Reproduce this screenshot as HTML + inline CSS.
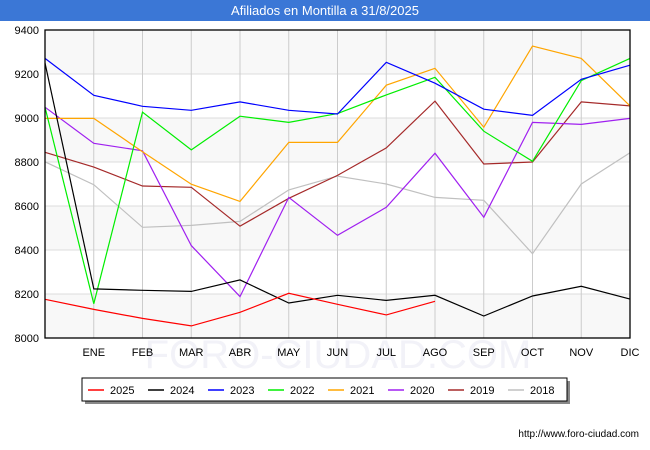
<!DOCTYPE html>
<html><head><meta charset="utf-8"><style>
body{margin:0;background:#fff;font-family:"Liberation Sans",sans-serif;}
#wrap{position:relative;width:650px;height:450px;overflow:hidden}
#title{position:absolute;left:0;top:0;width:650px;height:21px;background:#3b77d6;color:#fff;font-size:13px;text-align:center;line-height:22px}
</style></head><body>
<div id="wrap">
<div id="title">Afiliados en Montilla a 31/8/2025</div>
<svg id="svg" width="650" height="450" style="position:absolute;left:0;top:0"></svg>
</div>
<script>
const months=["","ENE","FEB","MAR","ABR","MAY","JUN","JUL","AGO","SEP","OCT","NOV","DIC"];
const yTicks=[8000,8200,8400,8600,8800,9000,9200,9400];
const seriesNames=["2025","2024","2023","2022","2021","2020","2019","2018"];
const seriesColors=["#ff0000","#000000","#0000ff","#00ee00","#ffa500","#a020f0","#a52a2a","#c0c0c0"];
const s2025=[8176,8130,8089,8055,8117,8203,8153,8105,8167];
const s2024=[9250,8223,8217,8212,8264,8159,8194,8171,8194,8100,8191,8235,8177];
const s2023=[9271,9103,9053,9035,9073,9035,9018,9253,9158,9040,9012,9176,9240];
const s2022=[9049,8156,9027,8855,9008,8980,9020,9105,9185,8940,8803,9170,9271];
const s2021=[8998,8998,8847,8699,8621,8889,8889,9149,9226,8958,9327,9271,9055];
const s2020=[9049,8885,8851,8420,8188,8639,8467,8594,8840,8549,8980,8971,8998];
const s2019=[8844,8777,8691,8685,8508,8635,8739,8864,9077,8791,8800,9073,9055];
const s2018=[8801,8697,8503,8512,8530,8673,8736,8700,8639,8626,8383,8700,8842];
const allSeries=[s2025,s2024,s2023,s2022,s2021,s2020,s2019,s2018];
const NS="http://www.w3.org/2000/svg";
const svg=document.getElementById('svg');
const L=45,R=630,T=30,B=338,yMin=8000,yMax=9400;
const x=i=>L+(R-L)*i/12;
const y=v=>B-(B-T)*(v-yMin)/(yMax-yMin);
function mk(t,a){const e=document.createElementNS(NS,t);for(const k in a)e.setAttribute(k,a[k]);svg.appendChild(e);return e;}
for(let i=0;i<yTicks.length-1;i++){
 const r=mk('rect',{x:L,y:y(yTicks[i+1]),width:R-L,height:y(yTicks[i])-y(yTicks[i+1]),fill:(i%2==0)?'#f8f8f8':'#ffffff'});
 
 
}
const wm=mk('text',{x:338,y:368,'text-anchor':'middle','font-size':40,fill:'#f2f2f8','font-family':'Liberation Sans, sans-serif'});
wm.textContent='FORO-CIUDAD.COM';


yTicks.forEach(v=>{
 const g=mk('line',{x1:L,x2:R,y1:y(v),y2:y(v),stroke:'#dddddd','stroke-width':1});
 
 
 const t=mk('text',{x:L-6,y:y(v)+4,'text-anchor':'end','font-size':11,fill:'#000'});
 t.textContent=v;
 
 
});
months.forEach((m,i)=>{
 if(i>0){const g=mk('line',{x1:x(i),x2:x(i),y1:T,y2:B,stroke:'#cccccc','stroke-width':1});
 
 }
 const t=mk('text',{x:x(i),y:B+18,'text-anchor':'middle','font-size':11,fill:'#000'});
 t.textContent=m;
 
 
});
for(let k=allSeries.length-1;k>=0;k--){
 const d=allSeries[k].map((v,i)=>(i?'L':'M')+x(i).toFixed(1)+','+y(v).toFixed(1)).join(' ');
 const p=mk('path',{d:d,fill:'none',stroke:seriesColors[k],'stroke-width':1.2});
 
 
}
const fr=mk('rect',{x:L,y:T,width:R-L,height:B-T,fill:'none',stroke:'#000','stroke-width':1.3});


const sh=mk('rect',{x:85,y:381,width:485,height:23,fill:'#888'});


const lb=mk('rect',{x:82,y:378,width:485,height:23,fill:'#fff',stroke:'#000','stroke-width':1});


seriesNames.forEach((n,k)=>{
 const lx=88+k*60;
 const ln=mk('line',{x1:lx,x2:lx+16,y1:390,y2:390,stroke:seriesColors[k],'stroke-width':1.5});
 
 
 const t=mk('text',{x:lx+22,y:394,'font-size':11,fill:'#000'});
 t.textContent=n;
 
 
});
const u=mk('text',{x:639,y:437,'text-anchor':'end','font-size':10,fill:'#000'});
u.textContent='http://www.foro-ciudad.com';


</script>
</body></html>
